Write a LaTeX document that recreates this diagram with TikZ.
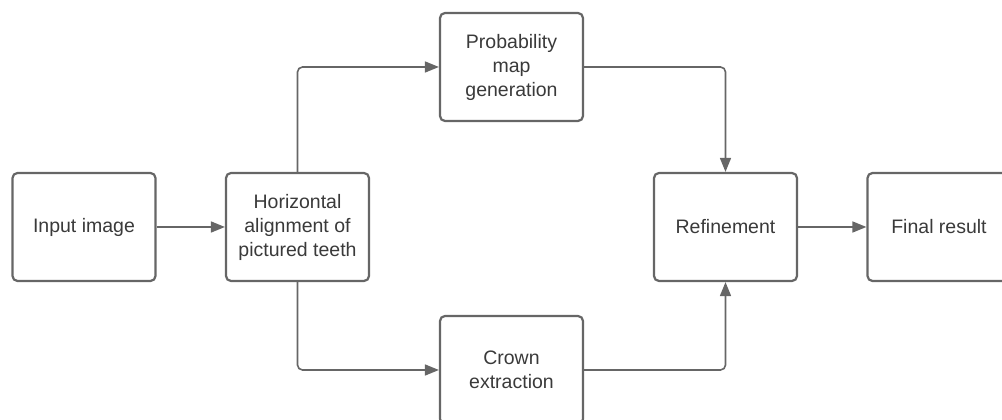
\documentclass[tikz,border=0pt]{standalone}
\usepackage{fontspec}
\setmainfont{Liberation Sans}
\usetikzlibrary{arrows.meta}
\definecolor{ln}{HTML}{666666}
\definecolor{tx}{HTML}{3A3A3A}
\begin{document}
\begin{tikzpicture}[x=1pt,y=1pt,
  box/.style={draw=ln,line width=2.2pt,rounded corners=5pt,fill=white,
    minimum width=143pt,minimum height=108pt,align=center,
    font=\fontsize{19.5}{24}\selectfont,text=tx,inner sep=0pt},
  conn/.style={draw=ln,line width=1.6pt,rounded corners=5pt,
    -{Triangle[length=14pt,width=11pt]}}]
\useasboundingbox (0,0) rectangle (1002,420);
\clip (0,0) rectangle (1002,420);
\node[box] (in) at (84,193) {Input image};
\node[box] (ha) at (297.5,193) {Horizontal\\alignment of\\pictured teeth};
\node[box] (pm) at (511.5,353) {Probability\\map\\generation};
\node[box] (ce) at (511.5,50) {Crown\\extraction};
\node[box] (rf) at (725.5,193) {Refinement};
\node[box] (fr) at (939,193) {Final result};
\draw[conn] (in) -- (ha);
\draw[conn] (ha.north) |- (pm.west);
\draw[conn] (ha.south) |- (ce.west);
\draw[conn] (pm.east) -| (rf.north);
\draw[conn] (ce.east) -| (rf.south);
\draw[conn] (rf) -- (fr);
\end{tikzpicture}
\end{document}
